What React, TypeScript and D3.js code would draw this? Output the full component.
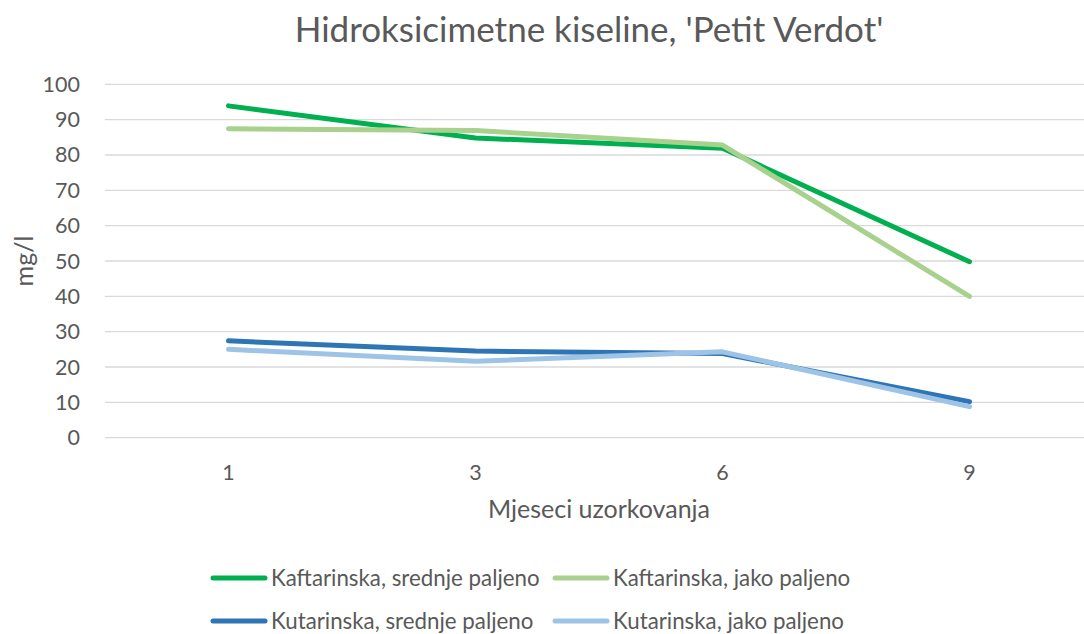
import React from "react";
import * as d3 from "d3";

const categories = ["1", "3", "6", "9"];
const kaftSrednje = [93.9, 84.8, 81.9, 49.8];
const kaftJako = [87.4, 86.9, 82.8, 40.0];
const kutSrednje = [27.4, 24.5, 23.8, 10.2];
const kutJako = [25.0, 21.6, 24.3, 8.8];
const yTicks = [0, 10, 20, 30, 40, 50, 60, 70, 80, 90, 100];

const seriesNames = [
  "Kaftarinska, srednje paljeno",
  "Kaftarinska, jako paljeno",
  "Kutarinska, srednje paljeno",
  "Kutarinska, jako paljeno",
];
const seriesColors = ["#00B050", "#A9D18E", "#2E75B6", "#9DC3E6"];
const seriesValues = [kaftSrednje, kaftJako, kutSrednje, kutJako];

const W = 1084;
const H = 634;
const FONT = "Lato, 'Open Sans', sans-serif";

export default function App() {
  const left = 105;
  const right = 1093;
  const top = 84.3;
  const bottom = 437.7;
  const x = d3.scalePoint().domain(categories).range([left, right]).padding(0.5);
  const y = d3.scaleLinear().domain([0, 100]).range([bottom, top]);
  const line = d3
    .line<number>()
    .x((_, i) => x(categories[i]) as number)
    .y((d) => y(d));

  const order = [0, 2, 1, 3];

  const legendItems = [
    { i: 0, lx: 213, ly: 578 },
    { i: 1, lx: 555, ly: 578 },
    { i: 2, lx: 213, ly: 621 },
    { i: 3, lx: 555, ly: 621 },
  ];

  return (
    <svg
      width={W}
      height={H}
      style={{ position: "absolute", left: 0, top: 0, background: "#fff" }}
      fontFamily={FONT}
    >
      <rect x={0} y={0} width={W} height={H} fill="#fff" />
      <text x={589} y={42} textAnchor="middle" fontSize={35} fill="#595959">
        Hidroksicimetne kiseline, 'Petit Verdot'
      </text>
      {yTicks.map((t) => (
        <g key={t}>
          <line x1={left} x2={right} y1={y(t)} y2={y(t)} stroke="#D9D9D9" strokeWidth={1.3} />
          <text x={80} y={y(t) + 7.5} textAnchor="end" fontSize={21.5} fill="#595959">
            {t}
          </text>
        </g>
      ))}
      {categories.map((c) => (
        <text key={c} x={x(c)} y={480} textAnchor="middle" fontSize={21.5} fill="#595959">
          {c}
        </text>
      ))}
      <text x={599} y={518} textAnchor="middle" fontSize={25} fill="#595959">
        Mjeseci uzorkovanja
      </text>
      <text
        transform={`translate(33, ${(top + bottom) / 2}) rotate(-90)`}
        textAnchor="middle"
        fontSize={25}
        fill="#595959"
      >
        mg/l
      </text>
      {order.map((i) => (
        <path
          key={i}
          d={line(seriesValues[i]) as string}
          fill="none"
          stroke={seriesColors[i]}
          strokeWidth={5}
          strokeLinecap="round"
          strokeLinejoin="round"
        />
      ))}
      {legendItems.map(({ i, lx, ly }) => (
        <g key={i}>
          <line
            x1={lx}
            x2={lx + 52}
            y1={ly}
            y2={ly}
            stroke={seriesColors[i]}
            strokeWidth={5}
            strokeLinecap="round"
          />
          <text x={lx + 58} y={ly + 7.5} fontSize={22.3} fill="#595959">
            {seriesNames[i]}
          </text>
        </g>
      ))}
    </svg>
  );
}
